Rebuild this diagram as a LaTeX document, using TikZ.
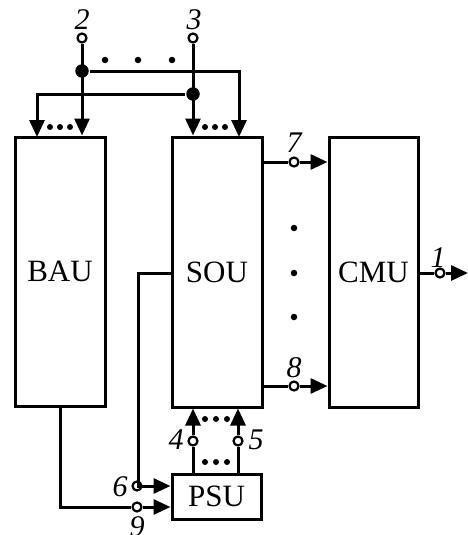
\documentclass[tikz,border=0pt]{standalone}
\usepackage{fontspec}
\setmainfont{Liberation Serif}
\usetikzlibrary{arrows.meta}
\begin{document}
\begin{tikzpicture}[x=1pt,y=-1pt,
  line width=3pt,
  box/.style={draw, line width=3pt, inner sep=0pt, font=\fontsize{31}{36}\selectfont},
  term/.style={circle, draw, fill=white, line width=2.2pt, inner sep=0pt, minimum size=9pt},
  jn/.style={circle, fill, inner sep=0pt, minimum size=13.5pt},
  dt/.style={circle, fill, inner sep=0pt, minimum size=6pt},
  lbl/.style={font=\fontsize{30}{36}\selectfont\itshape, inner sep=0pt},
  arr/.style={-{Triangle[length=17pt,width=15pt]}},
]
\useasboundingbox (0,0) rectangle (468,535);
% boxes
\node[box, minimum width=90pt, minimum height=269pt] (bau) at (60,271.5) {BAU};
\node[box, minimum width=90pt, minimum height=270pt] (sou) at (217,272) {SOU};
\node[box, minimum width=89pt, minimum height=270pt] (cmu) at (373.5,272) {CMU};
\node[box, minimum width=89pt, minimum height=45pt] (psu) at (216.5,496.5) {PSU};
% terminals
\node[term] (t2) at (82,38) {};
\node[term] (t3) at (193,38) {};
\node[term] (t7) at (294,162) {};
\node[term] (t8) at (294,386) {};
\node[term] (t1) at (440,273) {};
\node[term] (t4) at (193,441) {};
\node[term] (t5) at (238,441) {};
\node[term] (t6) at (137,486) {};
\node[term] (t9) at (137,507) {};
\coordinate (e1) at (468,273);
% junctions
\node[jn] (j2) at (82,71) {};
\node[jn] (j3) at (193,94) {};
\coordinate (b1) at (37,137);
\coordinate (s2) at (239,137);
\coordinate (c6) at (138,273);
\coordinate (c9) at (60,507);
% labels
\node[lbl] (l2) at (82,20) {2};
\node[lbl] (l3) at (194,20) {3};
\node[lbl] (l7) at (294,143) {7};
\node[lbl] (l8) at (294,368) {8};
\node[lbl] (l1) at (438,258) {1};
\node[lbl] (l4) at (176,440) {4};
\node[lbl] (l5) at (256,440) {5};
\node[lbl] (l6) at (120,487) {6};
\node[lbl] (l9) at (137,527) {9};
% top inputs
\draw[arr] (t2) -- (t2 |- bau.north);
\draw[arr] (t3) -- (t3 |- sou.north);
\draw[arr] (j2) -| (s2);
\draw[arr] (j3) -| (b1);
% outputs SOU -> CMU
\draw (sou.east |- t7) -- (t7);
\draw[arr] (t7) -- (t7 -| cmu.west);
\draw (sou.east |- t8) -- (t8);
\draw[arr] (t8) -- (t8 -| cmu.west);
% CMU output
\draw (cmu.east |- t1) -- (t1);
\draw[arr] (t1) -- (e1);
% PSU -> SOU
\draw (psu.north -| t4) -- (t4);
\draw[arr] (t4) -- (t4 |- sou.south);
\draw (psu.north -| t5) -- (t5);
\draw[arr] (t5) -- (t5 |- sou.south);
% inputs to PSU
\draw (sou.west |- c6) -- (c6) -- (c6 |- t6) -- (t6);
\draw[arr] (t6) -- (t6 -| psu.west);
\draw (bau.south -| c9) -- (c9) -- (t9);
\draw[arr] (t9) -- (t9 -| psu.west);
% dots
\node[dt, minimum size=6.5pt] (d1) at (105,60) {};
\node[dt, minimum size=6.5pt] (d2) at (138,60) {};
\node[dt, minimum size=6.5pt] (d3) at (172,60) {};
\node[dt] (d4) at (50,127) {};
\node[dt] (d5) at (60,127) {};
\node[dt] (d6) at (70,127) {};
\node[dt] (d7) at (205,127) {};
\node[dt] (d8) at (215,127) {};
\node[dt] (d9) at (225,127) {};
\node[dt, minimum size=6.5pt] (d10) at (294,228) {};
\node[dt, minimum size=6.5pt] (d11) at (294,273) {};
\node[dt, minimum size=6.5pt] (d12) at (294,317) {};
\node[dt] (d13) at (205,419) {};
\node[dt] (d14) at (216,419) {};
\node[dt] (d15) at (227,419) {};
\node[dt] (d16) at (205,462) {};
\node[dt] (d17) at (216,462) {};
\node[dt] (d18) at (227,462) {};
\end{tikzpicture}
\end{document}
